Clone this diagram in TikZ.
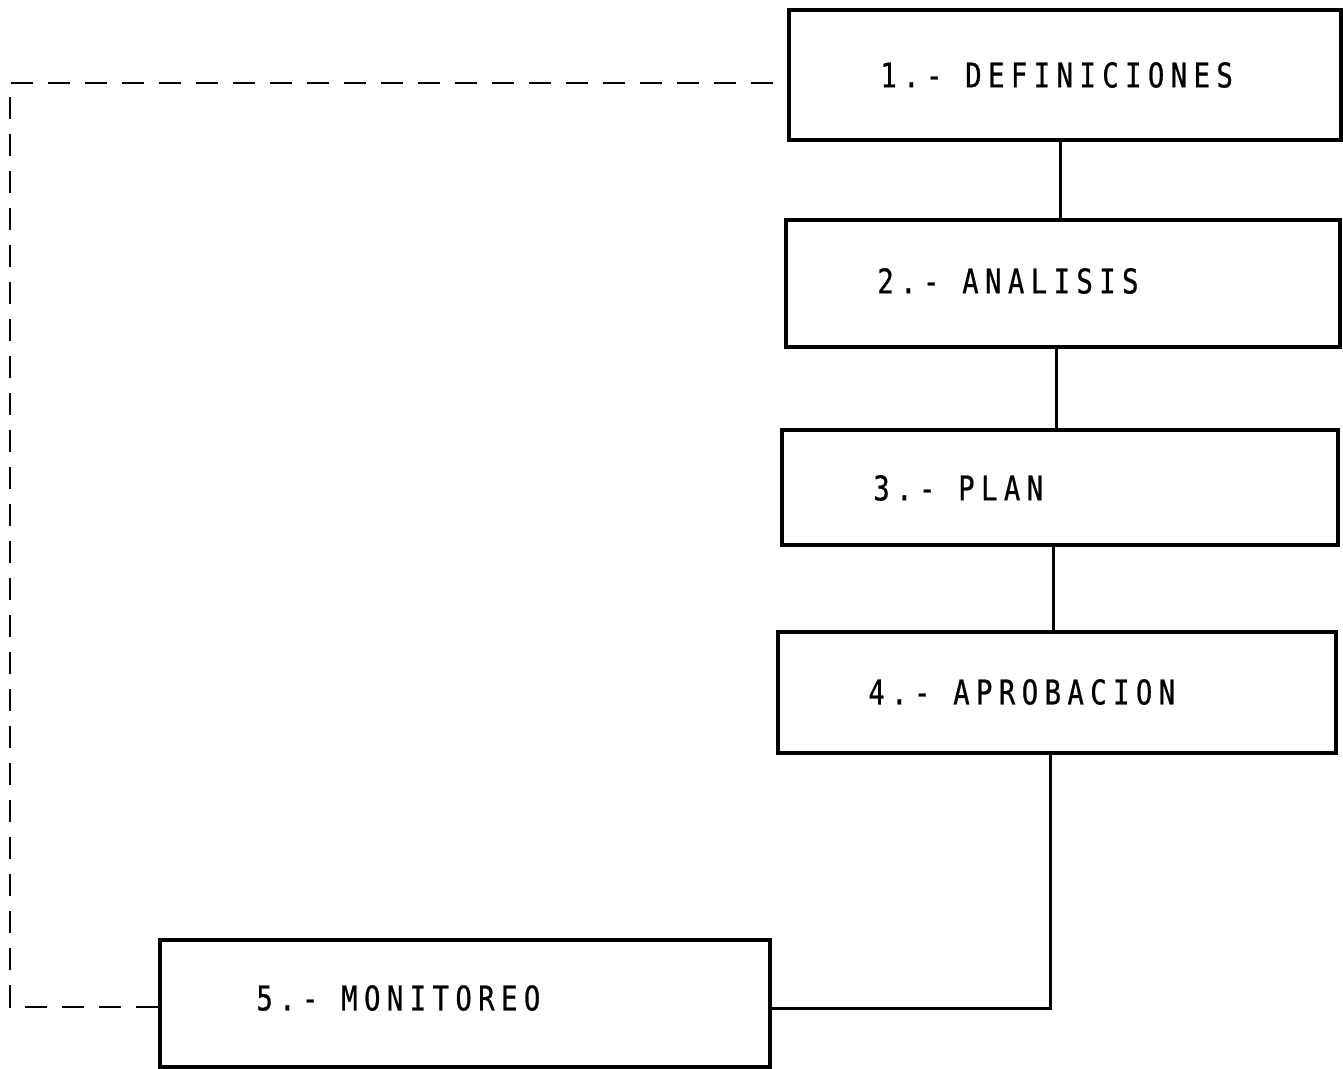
\documentclass[tikz,border=0pt]{standalone}
\usepackage{fontspec}
\usetikzlibrary{fit}
\newfontfamily\monotxt[LetterSpace=19,FakeStretch=0.8,FakeBold=0.7]{DejaVu Sans Mono}
\begin{document}
\begin{tikzpicture}[x=0.5pt,y=-0.5pt,
  box/.style={draw=black, line width=1.6pt, inner sep=0pt, rectangle},
  lbl/.style={anchor=west, inner sep=0pt, font=\monotxt\fontsize{17pt}{20pt}\selectfont},
  link/.style={draw=black, line width=1.5pt},
  feedback/.style={draw=black, line width=1.4pt, dash pattern=on 11pt off 7.5pt}]
\useasboundingbox (0,0) rectangle (1343,1069);
\node[box, fit={(789,10) (1341,140)}] (b1) {};
\node[box, fit={(786,220) (1340,347)}] (b2) {};
\node[box, fit={(782,430) (1338,545)}] (b3) {};
\node[box, fit={(778,632) (1336,753)}] (b4) {};
\node[box, fit={(160,940) (770,1067)}] (b5) {};
\node[lbl] (t1) at (880,75) {1.- DEFINICIONES};
\node[lbl] (t2) at (877,281) {2.- ANALISIS};
\node[lbl] (t3) at (873,488) {3.- PLAN};
\node[lbl] (t4) at (868,692) {4.- APROBACION};
\node[lbl] (t5) at (256,998) {5.- MONITOREO};
\draw[link] (b1.south -| 1060,0) -- (b2.north -| 1060,0);
\draw[link] (b2.south -| 1056,0) -- (b3.north -| 1056,0);
\draw[link] (b3.south -| 1053,0) -- (b4.north -| 1053,0);
\coordinate (c45) at (1050,1008);
\draw[link] (b4.south -| c45) -- (c45) -- (c45 -| b5.east);
\coordinate (ctl) at (10,83);
\coordinate (cbl) at (10,1007);
\draw[feedback] (cbl -| b5.west) -- (cbl) -- (ctl) -- (b1.west |- ctl);
\end{tikzpicture}
\end{document}
